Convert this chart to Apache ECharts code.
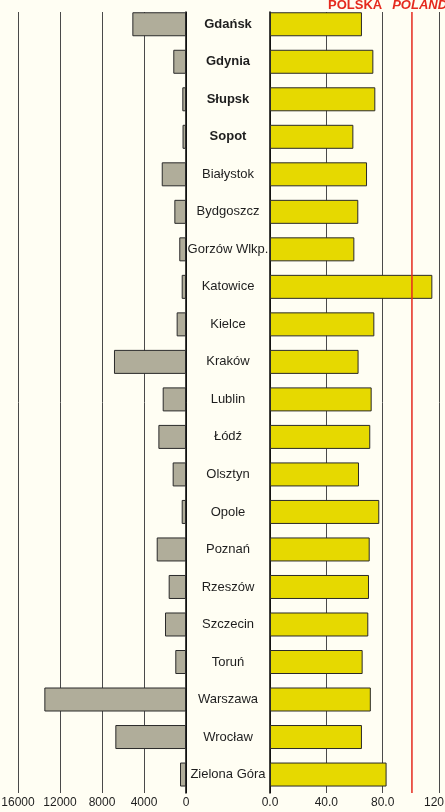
<!DOCTYPE html>
<html>
<head>
<meta charset="utf-8">
<script src="https://cdn.jsdelivr.net/npm/echarts@6/dist/echarts.min.js"></script>
<style>
  html, body { margin: 0; padding: 0; background: #FFFEF3; }
  #chart { width: 445px; height: 812px; }
</style>
</head>
<body>
<div id="chart"></div>
<script>
// Cities, top to bottom
const cities = ['Gdańsk', 'Gdynia', 'Słupsk', 'Sopot', 'Białystok', 'Bydgoszcz',
  'Gorzów Wlkp.', 'Katowice', 'Kielce', 'Kraków', 'Lublin', 'Łódź', 'Olsztyn',
  'Opole', 'Poznań', 'Rzeszów', 'Szczecin', 'Toruń', 'Warszawa', 'Wrocław', 'Zielona Góra'];
// Cities written in bold
const boldCities = ['Gdańsk', 'Gdynia', 'Słupsk', 'Sopot'];
// Left panel (grey bars)
const leftValues = [5110, 1210, 350, 330, 2310, 1110, 640, 410, 890, 6860, 2220,
  2630, 1270, 410, 2790, 1650, 2000, 1020, 13490, 6730, 570];
// Right panel (yellow bars)
const rightValues = [65.3, 73.4, 74.8, 59.2, 68.9, 62.7, 59.9, 115.3, 74.1, 62.9, 72.2,
  71.2, 63.2, 77.6, 70.8, 70.3, 69.8, 65.8, 71.6, 65.3, 82.8];
// National level (red reference line)
const polskaValue = 100.8;
// Axis ranges and tick steps
const leftMax = 16000, leftStep = 4000;
const rightMax = 160, rightStep = 40;

const FONT = '"Liberation Sans", Arial, sans-serif';
const TEXT = '#1e1e1e';
const GRID_LINE = '#4a4a4a';

const chart = echarts.init(document.getElementById('chart'), null, { renderer: 'canvas' });

const barGridTop = 5.5, barGridHeight = 787.8;
const backTop = 12, backHeight = 781;
const leftGrid = { left: 18, width: 168 };
const rightGrid = { left: 270, width: 225.3 };

function makeGrid(side, top, height) {
  return { left: side.left, width: side.width, top: top, height: height,
    containLabel: false, outerBoundsMode: 'none' };
}

chart.setOption({
  backgroundColor: '#FFFEF3',
  animation: false,
  title: {
    text: '{a|POLSKA}  {b|POLAND}',
    left: 328, top: -4, padding: 0,
    textStyle: {
      rich: {
        a: { fontFamily: FONT, fontSize: 13, fontWeight: 'bold', color: '#E52A1E', lineHeight: 13 },
        b: { fontFamily: FONT, fontSize: 13, fontWeight: 'bold', fontStyle: 'italic', color: '#E52A1E', lineHeight: 13 }
      }
    }
  },
  grid: [
    // backdrops carrying the scale lines
    makeGrid(leftGrid, backTop, backHeight),
    makeGrid(rightGrid, backTop, backHeight),
    // bar panels
    makeGrid(leftGrid, barGridTop, barGridHeight),
    makeGrid(rightGrid, barGridTop, barGridHeight)
  ],
  xAxis: [
    {
      gridIndex: 0, type: 'value', min: 0, max: leftMax, interval: leftStep, inverse: true,
      axisLine: { show: false }, axisTick: { show: false },
      splitLine: { show: true, lineStyle: { color: GRID_LINE, width: 1 } },
      axisLabel: { color: TEXT, fontFamily: FONT, fontSize: 12, margin: 4, formatter: v => String(v) }
    },
    {
      gridIndex: 1, type: 'value', min: 0, max: rightMax, interval: rightStep,
      axisLine: { show: false }, axisTick: { show: false },
      splitLine: { show: true, lineStyle: { color: GRID_LINE, width: 1 } },
      axisLabel: { color: TEXT, fontFamily: FONT, fontSize: 12, margin: 4, formatter: v => v.toFixed(1) }
    },
    { gridIndex: 2, type: 'value', min: 0, max: leftMax, inverse: true, show: false, splitLine: { show: false } },
    { gridIndex: 3, type: 'value', min: 0, max: rightMax, show: false, splitLine: { show: false } }
  ],
  yAxis: [
    {
      gridIndex: 0, type: 'value', min: 0, max: 1, position: 'right',
      axisLine: { show: true, lineStyle: { color: '#000', width: 1.5 } },
      axisTick: { show: false }, axisLabel: { show: false }, splitLine: { show: false }
    },
    {
      gridIndex: 1, type: 'value', min: 0, max: 1, position: 'left',
      axisLine: { show: true, lineStyle: { color: '#000', width: 1.5 } },
      axisTick: { show: false }, axisLabel: { show: false }, splitLine: { show: false }
    },
    {
      gridIndex: 2, type: 'category', data: cities, inverse: true, position: 'right',
      axisLine: { show: false }, axisTick: { show: false }, axisLabel: { show: false }
    },
    {
      gridIndex: 3, type: 'category', data: cities, inverse: true, position: 'left',
      axisLine: { show: false }, axisTick: { show: false },
      axisLabel: {
        margin: 42, align: 'center', color: TEXT, fontFamily: FONT, fontSize: 13,
        formatter: name => boldCities.includes(name) ? '{b|' + name + '}' : name,
        rich: { b: { fontFamily: FONT, fontSize: 13, fontWeight: 'bold', color: TEXT } }
      }
    }
  ],
  series: [
    {
      type: 'bar', name: 'left', xAxisIndex: 2, yAxisIndex: 2,
      data: leftValues, barWidth: 24,
      itemStyle: { color: '#B0AD9A', borderColor: '#2a2a2a', borderWidth: 1 },
      z: 3
    },
    {
      type: 'bar', name: 'right', xAxisIndex: 3, yAxisIndex: 3,
      data: rightValues, barWidth: 24,
      itemStyle: { color: '#E6D900', borderColor: '#2a2a2a', borderWidth: 1 },
      z: 3
    },
    {
      type: 'line', name: 'Polska', xAxisIndex: 1, yAxisIndex: 1,
      data: [[polskaValue, 0], [polskaValue, 1]],
      symbol: 'none', silent: true,
      lineStyle: { color: '#E52A1E', width: 1.5 },
      z: 6
    }
  ]
});
</script>
</body>
</html>
